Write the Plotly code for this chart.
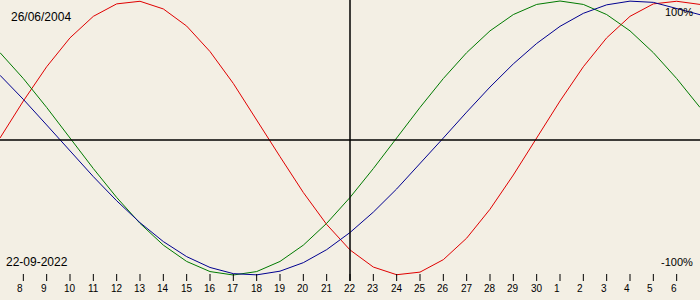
import plotly.graph_objects as go

# ---- data ----
day_numbers = list(range(7, 31)) + list(range(1, 8))   # 7 Sep .. 7 Oct, one point per day
tick_days = [str(d) for d in day_numbers[1:30]]        # labelled ticks 8 .. 6
physical = [0.000, 0.270, 0.520, 0.731, 0.888, 0.979, 0.998, 0.942, 0.817, 0.631, 0.398,
            0.136, -0.136, -0.398, -0.631, -0.817, -0.942, -0.998, -0.979, -0.888, -0.731,
            -0.520, -0.270, 0.000, 0.270, 0.520, 0.731, 0.888, 0.979, 0.998, 0.975]
emotional = [0.623, 0.434, 0.223, 0.000, -0.223, -0.434, -0.623, -0.782, -0.901, -0.975, -1.000,
             -0.975, -0.901, -0.782, -0.623, -0.434, -0.223, 0.000, 0.223, 0.434, 0.623,
             0.782, 0.901, 0.975, 1.000, 0.975, 0.901, 0.782, 0.623, 0.434, 0.223]
intellectual = [0.458, 0.282, 0.095, -0.095, -0.282, -0.458, -0.618, -0.756, -0.866, -0.945, -0.990,
                -0.999, -0.972, -0.910, -0.815, -0.690, -0.541, -0.372, -0.189, 0.000, 0.189,
                0.372, 0.541, 0.690, 0.815, 0.910, 0.972, 0.999, 0.990, 0.945, 0.900]
birth_date = "26/06/2004"
view_date = "22-09-2022"
selected_index = 15   # 22 Sep
top_label = "100%"
bottom_label = "-100%"

# ---- layout geometry ----
W, H = 700, 300
ZERO_PX, AMP_PX = 138.0, 137.0
def yv(px):  # pixel row -> data value
    return (ZERO_PX - px) / AMP_PX

BG = "#F3EFE4"
x = list(range(len(day_numbers)))
px_per_day = W / (len(day_numbers) - 1)

fig = go.Figure()
for vals, col in [(physical, "#E00000"), (emotional, "#007A00"), (intellectual, "#000090")]:
    fig.add_trace(go.Scatter(x=x, y=vals, mode="lines", line=dict(color=col, width=1),
                             hoverinfo="skip", showlegend=False))

shapes = []
# zero line
shapes.append(dict(type="line", xref="paper", yref="y", x0=0, x1=1, y0=yv(140), y1=yv(140),
                   line=dict(color="black", width=1.5)))
# selected-day vertical line
shapes.append(dict(type="line", xref="x", yref="y", x0=selected_index, x1=selected_index,
                   y0=yv(0), y1=yv(281), line=dict(color="black", width=1.5)))
# day ticks
for i in range(1, 30):
    shapes.append(dict(type="line", xref="x", yref="y", x0=i, x1=i, y0=yv(274), y1=yv(281),
                       line=dict(color="black", width=1)))

ann = []
for i, lab in zip(range(1, 30), tick_days):
    off = -3.0 / px_per_day if len(lab) == 1 else 0.0
    ann.append(dict(x=i + off, y=yv(288), xref="x", yref="y", text=lab, showarrow=False,
                    xanchor="center", yanchor="middle",
                    font=dict(family="Liberation Sans", size=10, color="black")))

def txt(t, px, py, anchor, size):
    return dict(x=px / W, y=1 - py / H, xref="paper", yref="paper", text=t, showarrow=False,
                xanchor=anchor, yanchor="middle",
                font=dict(family="Liberation Sans", size=size, color="black"))

ann.append(txt(birth_date, 9, 17, "left", 12))
ann.append(txt(view_date, 4, 262, "left", 12))
ann.append(txt(top_label, 695, 12, "right", 11))
ann.append(txt(bottom_label, 695, 262, "right", 11))

fig.update_layout(
    width=W, height=H, autosize=False,
    margin=dict(l=0, r=0, t=0, b=0, pad=0),
    paper_bgcolor=BG, plot_bgcolor=BG,
    xaxis=dict(range=[0, len(day_numbers) - 1], visible=False, fixedrange=True),
    yaxis=dict(range=[yv(H), yv(0)], visible=False, fixedrange=True),
    shapes=shapes, annotations=ann, showlegend=False,
)
fig.write_html("out.html", config={"displayModeBar": False})
